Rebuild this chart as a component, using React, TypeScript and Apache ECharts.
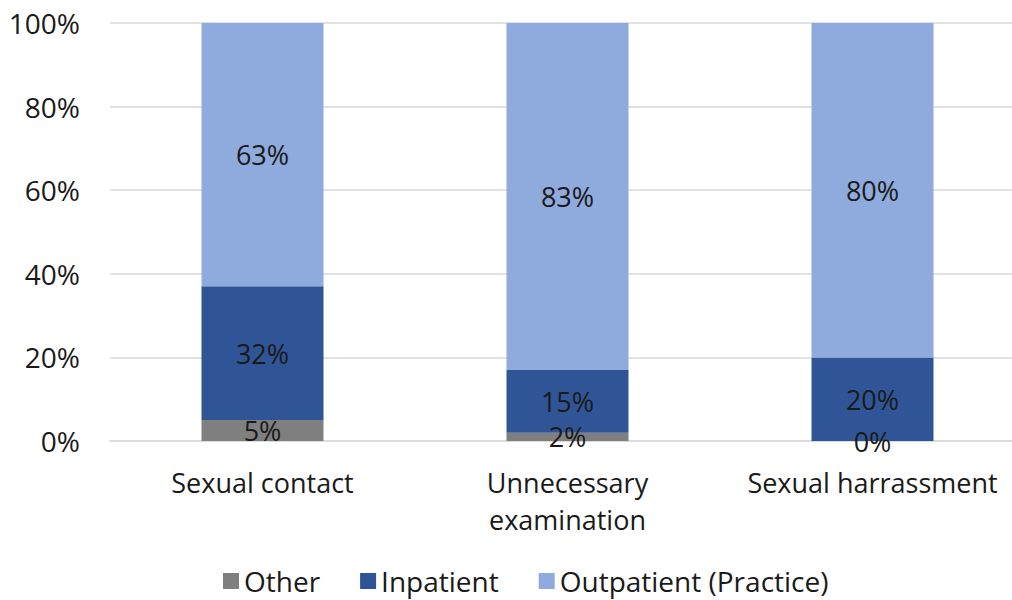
import React, { useEffect, useRef } from "react";
import * as echarts from "echarts";

const categories = ["Sexual contact", "Unnecessary\nexamination", "Sexual harrassment"];
const otherValues = [5, 2, 0];
const inpatientValues = [32, 15, 20];
const outpatientValues = [63, 83, 80];
const yTicks = [0, 20, 40, 60, 80, 100];

const FONT = "'Open Sans', 'Noto Sans', sans-serif";

export default function App() {
  const ref = useRef<HTMLDivElement>(null);
  useEffect(() => {
    if (!ref.current) return;
    const chart = echarts.init(ref.current, null, { renderer: "svg" });
    const label = {
      show: true,
      position: "inside",
      formatter: (p: any) => `${p.value}%`,
      color: "#1a1a1a",
      fontSize: 27,
      fontFamily: FONT,
    };
    chart.setOption({
      animation: false,
      backgroundColor: "#ffffff",
      textStyle: { fontFamily: FONT },
      grid: { left: 110, right: 0, top: 23, bottom: 159, containLabel: false },
      legend: {
        bottom: 0,
        left: 218,
        itemWidth: 16,
        itemHeight: 16,
        itemGap: 40,
        icon: "rect",
        textStyle: { fontSize: 28, color: "#1a1a1a", fontFamily: FONT },
        data: ["Other", "Inpatient", "Outpatient (Practice)"],
      },
      xAxis: {
        type: "category",
        data: categories,
        axisTick: { show: false },
        axisLine: { lineStyle: { color: "#d9d9d9", width: 1.5 } },
        axisLabel: { interval: 0, fontSize: 27, color: "#1a1a1a", margin: 23, lineHeight: 37, fontFamily: FONT },
      },
      yAxis: {
        type: "value",
        min: 0,
        max: 100,
        interval: 20,
        axisLabel: {
          fontSize: 28,
          color: "#1a1a1a",
          margin: 30,
          fontFamily: FONT,
          formatter: (v: number) => (yTicks.includes(v) ? `${v}%` : ""),
        },
        splitLine: { lineStyle: { color: "#d9d9d9", width: 1.5 } },
        axisLine: { show: false },
        axisTick: { show: false },
      },
      series: [
        { name: "Other", type: "bar", stack: "a", barWidth: 122, data: otherValues, itemStyle: { color: "#7f7f7f" }, label },
        { name: "Inpatient", type: "bar", stack: "a", barWidth: 122, data: inpatientValues, itemStyle: { color: "#2f5597" }, label },
        { name: "Outpatient (Practice)", type: "bar", stack: "a", barWidth: 122, data: outpatientValues, itemStyle: { color: "#8faadc" }, label },
      ],
    });
    return () => chart.dispose();
  }, []);
  return <div ref={ref} style={{ position: "fixed", left: 0, top: 0, width: 1025, height: 600 }} />;
}
